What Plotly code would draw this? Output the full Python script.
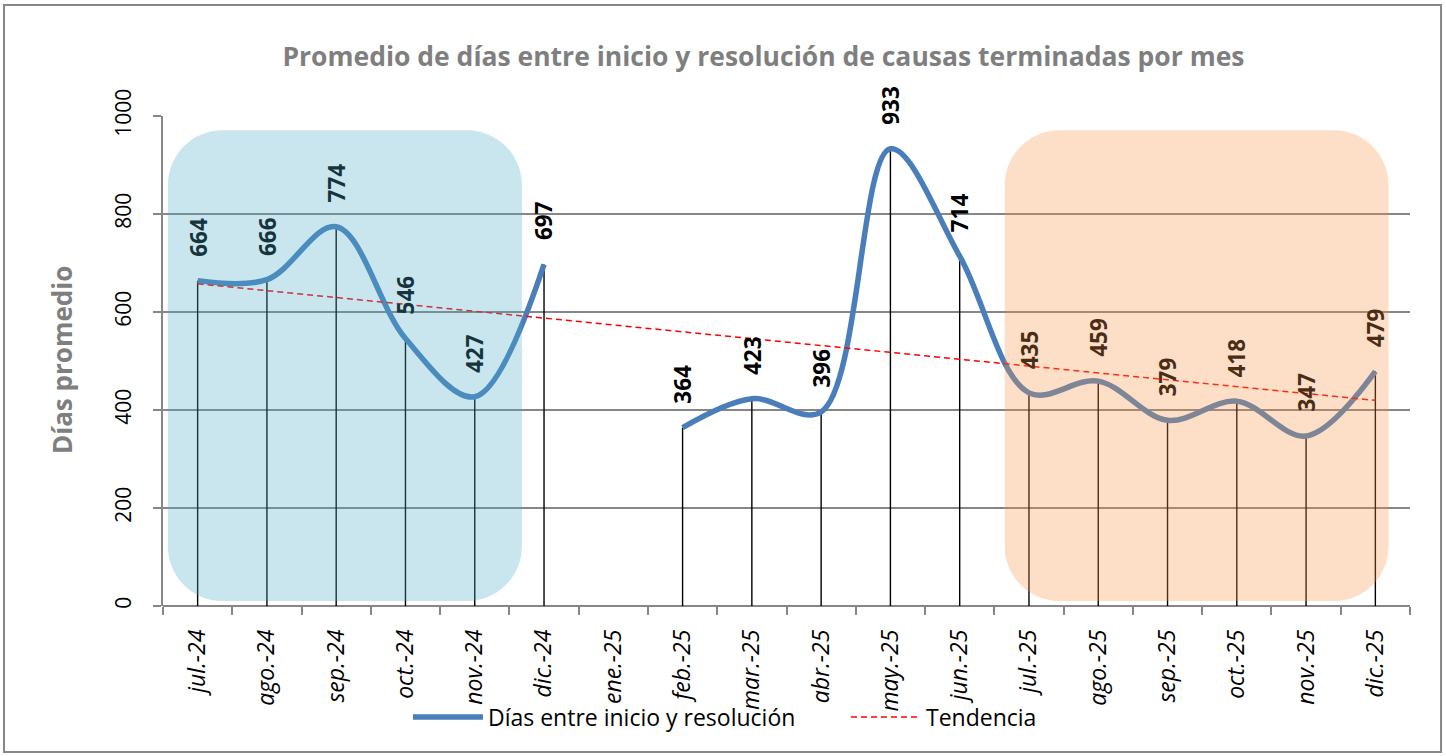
import numpy as np
import plotly.graph_objects as go

categories = ["jul.-24", "ago.-24", "sep.-24", "oct.-24", "nov.-24", "dic.-24",
              "ene.-25", "feb.-25", "mar.-25", "abr.-25", "may.-25", "jun.-25",
              "jul.-25", "ago.-25", "sep.-25", "oct.-25", "nov.-25", "dic.-25"]
dias = [664, 666, 774, 546, 427, 697, None, 364, 423, 396, 933, 714,
        435, 459, 379, 418, 347, 479]
y_ticks = [0, 200, 400, 600, 800, 1000]

series_name = "Días entre inicio y resolución"
trend_name = "Tendencia"
title_text = "Promedio de días entre inicio y resolución de causas terminadas por mes"
ytitle_text = "Días promedio"

# highlight boxes (x in category index units, y in data units)
blue_box = dict(x0=-0.43, x1=4.68, y0=10, y1=971)
orange_box = dict(x0=11.65, x1=17.19, y0=10, y1=971)
RX, RY = 0.79, 112  # corner radii

xs = list(range(len(categories)))
valid = [(x, v) for x, v in zip(xs, dias) if v is not None]
vx = np.array([p[0] for p in valid], float)
vy = np.array([p[1] for p in valid], float)
slope, intercept = np.polyfit(vx, vy, 1)
trend_x = [xs[0], xs[-1]]
trend_y = [intercept + slope * t for t in trend_x]

LINE_BLUE = "#4a7ebb"
GRID = "#868686"
FONT = "Open Sans"

fig = go.Figure()

# drop lines
fig.add_trace(go.Scatter(
    x=xs, y=dias, mode="markers", marker=dict(size=1, color="rgba(0,0,0,0)"),
    error_y=dict(type="data", symmetric=False, array=[0] * len(dias),
                 arrayminus=[v if v is not None else 0 for v in dias],
                 thickness=1.4, width=0, color="black"),
    showlegend=False, hoverinfo="skip"))

fig.add_trace(go.Scatter(
    x=xs, y=dias, mode="lines", name=series_name,
    line=dict(color=LINE_BLUE, width=5.5, shape="spline", smoothing=1.0),
    connectgaps=False))

fig.add_trace(go.Scatter(
    x=trend_x, y=trend_y, mode="lines", name=trend_name,
    line=dict(color="#ff0000", width=1.5, dash="6px,4px")))


def rounded_path(b):
    x0, x1, y0, y1 = b["x0"], b["x1"], b["y0"], b["y1"]
    k = 0.5523
    return (f"M {x0+RX},{y1} L {x1-RX},{y1} "
            f"C {x1-RX+k*RX},{y1} {x1},{y1-RY+k*RY} {x1},{y1-RY} "
            f"L {x1},{y0+RY} "
            f"C {x1},{y0+RY-k*RY} {x1-RX+k*RX},{y0} {x1-RX},{y0} "
            f"L {x0+RX},{y0} "
            f"C {x0+RX-k*RX},{y0} {x0},{y0+RY-k*RY} {x0},{y0+RY} "
            f"L {x0},{y1-RY} "
            f"C {x0},{y1-RY+k*RY} {x0+RX-k*RX},{y1} {x0+RX},{y1} Z")


shapes = [
    dict(type="path", path=rounded_path(blue_box), xref="x", yref="y",
         fillcolor="rgba(75,172,198,0.3)", line=dict(width=0), layer="above"),
    dict(type="path", path=rounded_path(orange_box), xref="x", yref="y",
         fillcolor="rgba(247,150,70,0.3)", line=dict(width=0), layer="above"),
    # outer frame
    dict(type="rect", xref="paper", yref="paper",
         x0=-0.1275, x1=1.0249, y0=-0.298, y1=1.2265,
         line=dict(color=GRID, width=2), fillcolor="rgba(0,0,0,0)", layer="below"),
]

annotations = []
for x, v in zip(xs, dias):
    if v is None:
        continue
    if blue_box["x0"] <= x <= blue_box["x1"]:
        col = "#16343b"
    elif orange_box["x0"] <= x <= orange_box["x1"]:
        col = "#4a2d15"
    else:
        col = "black"
    annotations.append(dict(
        x=x, y=v, xref="x", yref="y", text=str(v), showarrow=False,
        textangle=-90, xanchor="center", yanchor="bottom", yshift=22,
        font=dict(family=FONT, size=22.5, color=col, weight="bold")))

annotations.append(dict(
    x=-0.081, y=0.502, xref="paper", yref="paper", text=ytitle_text,
    showarrow=False, textangle=-90, xanchor="center", yanchor="middle",
    font=dict(family=FONT, size=26, color="#7f7f7f", weight="bold")))

fig.update_layout(
    width=1446, height=756,
    margin=dict(l=163, r=36, t=116, b=150),
    paper_bgcolor="white", plot_bgcolor="white",
    title=dict(text=title_text, x=0.528, xanchor="center", y=1 - 57 / 756,
               yanchor="middle",
               font=dict(family=FONT, size=26.5, color="#7f7f7f", weight="bold")),
    showlegend=True,
    legend=dict(orientation="h", x=0.5477, xanchor="center", y=-0.2265,
                yanchor="middle", font=dict(family=FONT, size=23, color="black"),
                itemwidth=70, entrywidth=353, entrywidthmode="pixels",
                bgcolor="rgba(0,0,0,0)"),
    shapes=shapes, annotations=annotations,
    xaxis=dict(range=[-0.5, len(categories) - 0.5], tickmode="array",
               tickvals=xs, ticktext=categories, tickangle=-90, ticks="",
               showgrid=False, zeroline=False, showline=False,
               ticklabelstandoff=18,
               tickfont=dict(family=FONT, size=23, color="black", style="italic"),
               minor=dict(tickmode="array",
                          tickvals=[i - 0.5 for i in range(len(categories) + 1)],
                          ticks="outside", ticklen=8, tickcolor=GRID,
                          tickwidth=1.5, showgrid=False)),
    yaxis=dict(range=[0, 1000], tickmode="array", tickvals=y_ticks,
               tickangle=-90, ticks="outside", ticklen=8, tickcolor=GRID,
               tickwidth=1.5, showgrid=True, gridcolor=GRID, gridwidth=1.5,
               zeroline=True, zerolinecolor=GRID, zerolinewidth=1.5,
               showline=True, linecolor=GRID, linewidth=1.5,
               ticklabelstandoff=14,
               tickfont=dict(family=FONT, size=21, color="black")),
)

fig.write_html("out.html", config={"displayModeBar": False},
               post_script="document.body.style.margin='0px';")
